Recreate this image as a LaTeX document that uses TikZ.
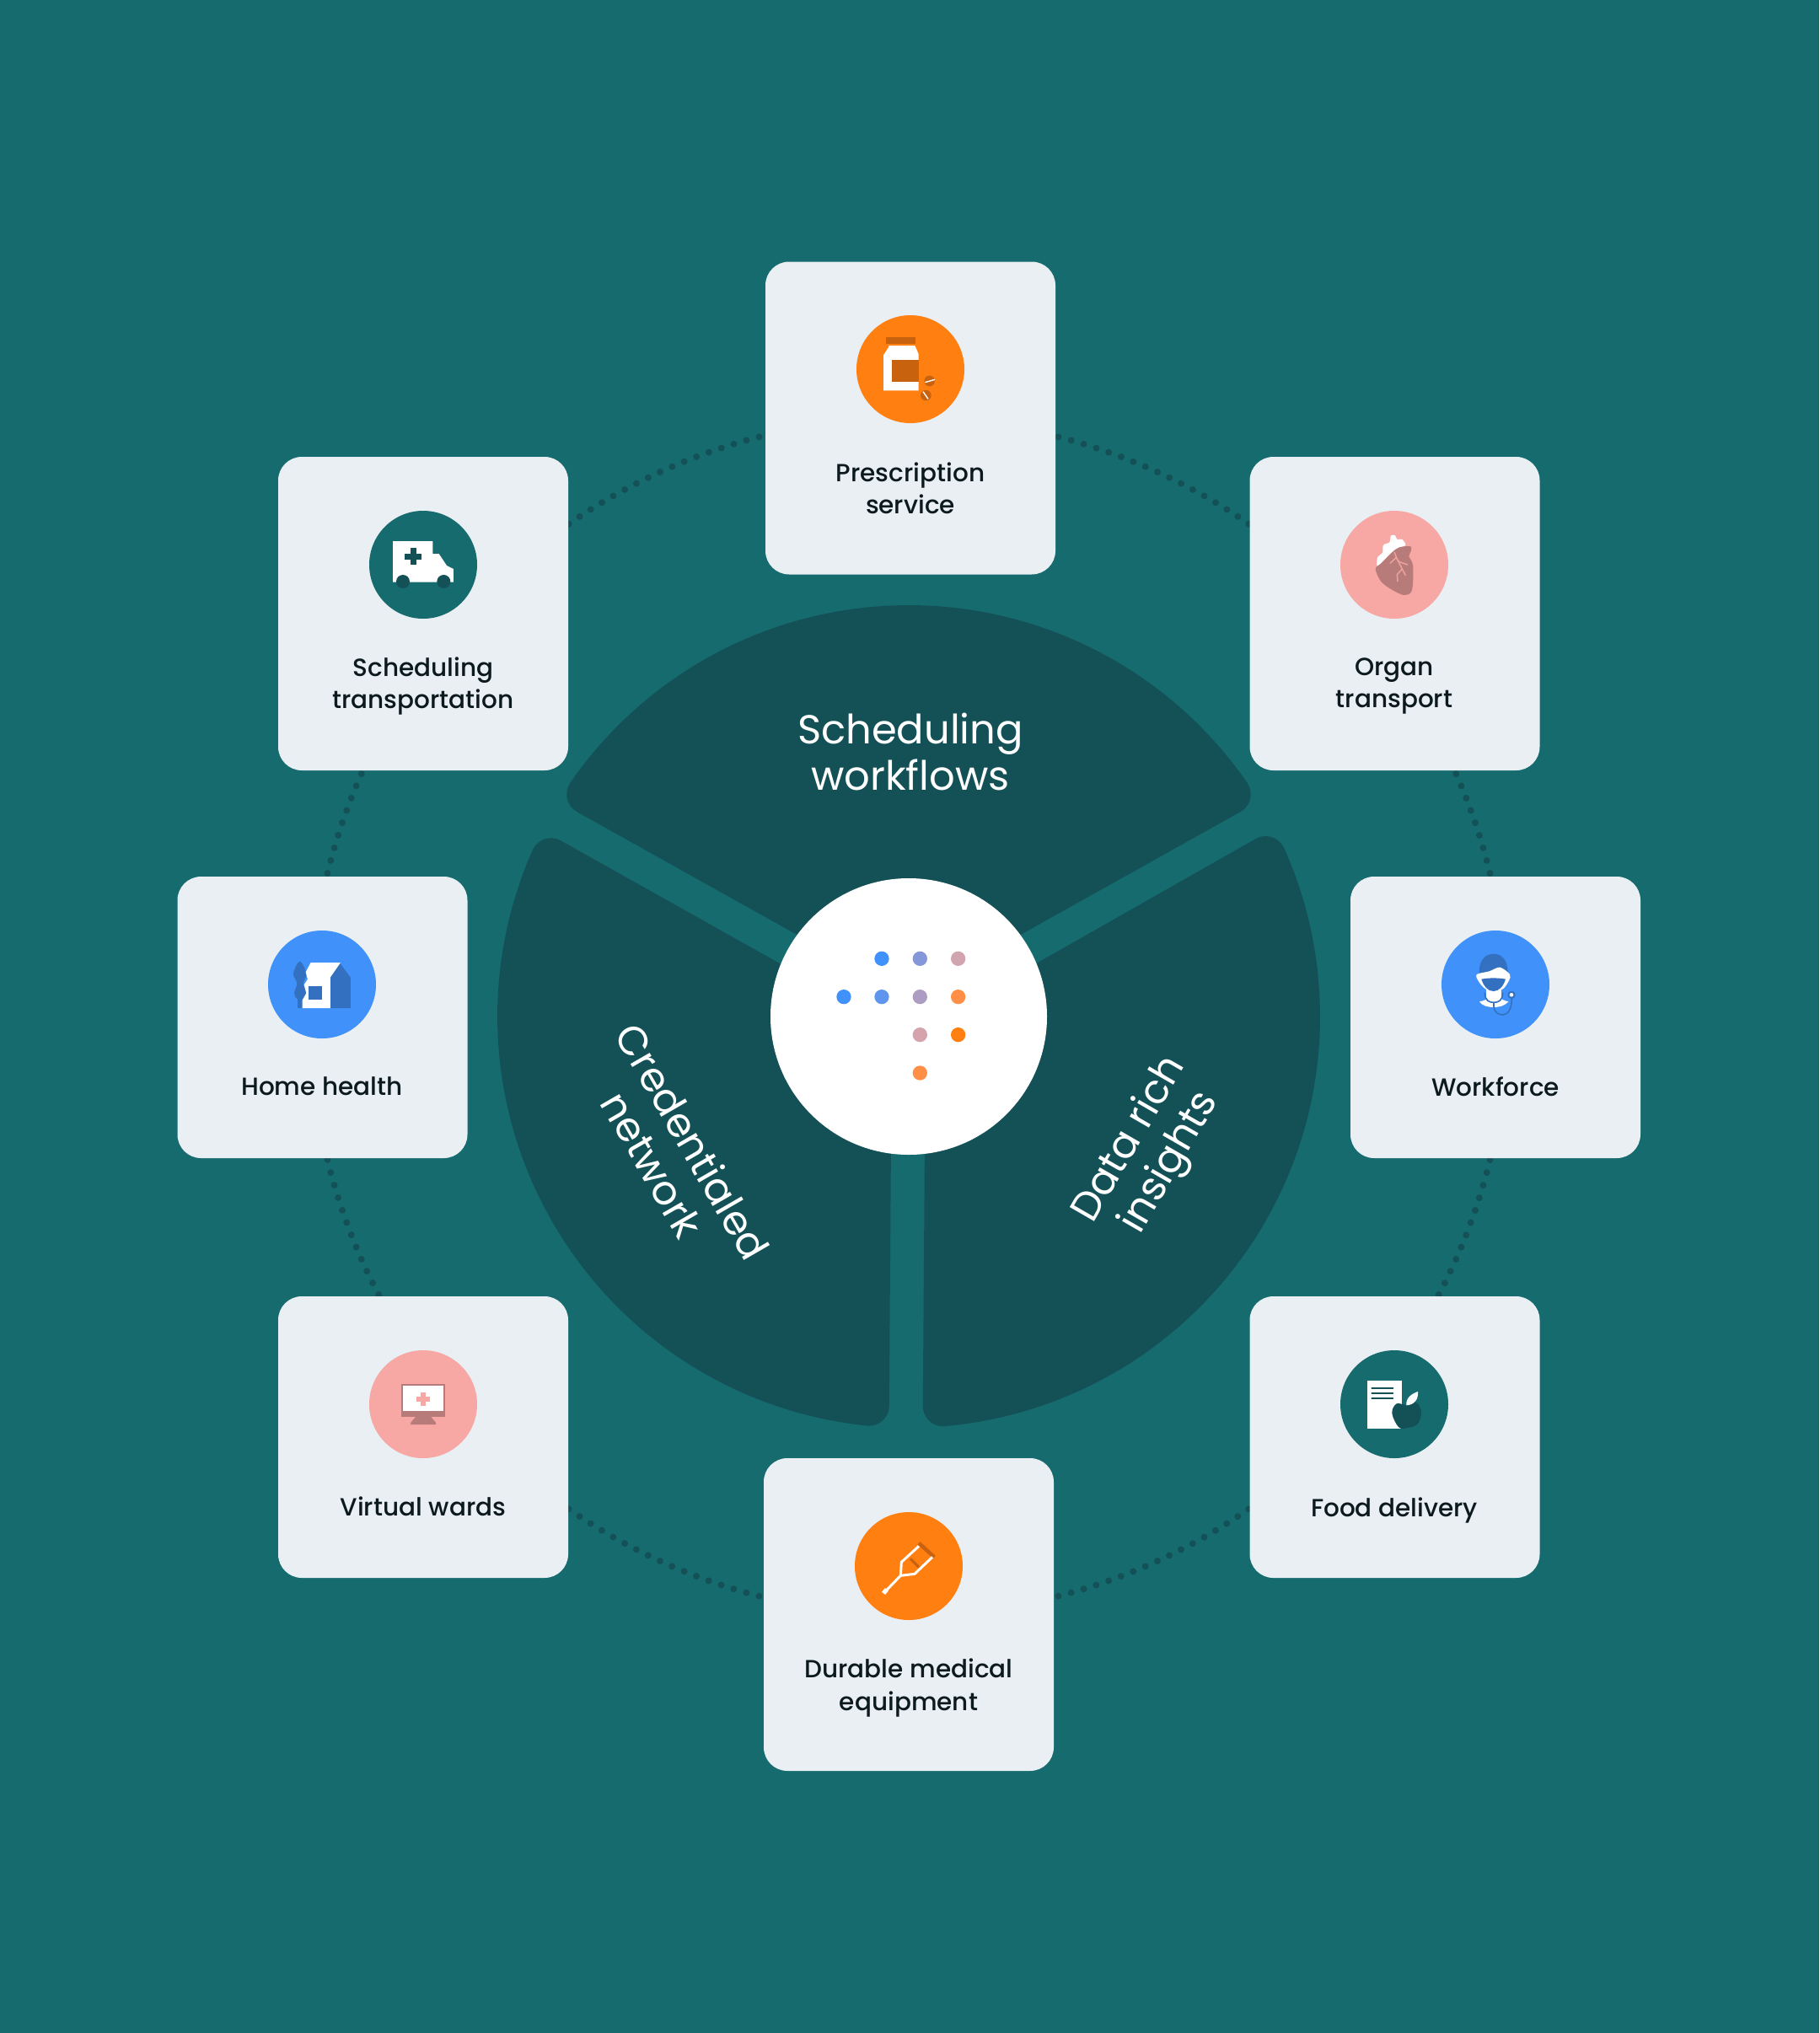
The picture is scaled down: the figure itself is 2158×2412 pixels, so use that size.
\documentclass[tikz,border=0pt]{standalone}
\usepackage{fontspec}
\setmainfont{Poppins}
\newfontfamily\cardfont{Poppins Medium}
\definecolor{bgteal}{HTML}{166B6F}
\definecolor{sector}{HTML}{145157}
\definecolor{cardbg}{HTML}{E9EFF2}
\definecolor{orng}{HTML}{FF7F11}
\definecolor{orngdk}{HTML}{C8620F}
\definecolor{pinkc}{HTML}{F7A8A5}
\definecolor{pinkdk}{HTML}{B77C79}
\definecolor{bluec}{HTML}{4092FA}
\definecolor{bluedk}{HTML}{3370C0}
\definecolor{inktext}{HTML}{0C1A1E}
\tikzset{
 cardbox/.style={draw=none,fill=cardbg,rounded corners=28pt,minimum width=344pt,inner sep=0pt},
 cardlabel/.style={text=inktext,font=\cardfont\fontsize{29.5}{38.5}\selectfont,align=center,anchor=center,inner sep=0pt},
 seclabel/.style={text=white,font=\fontsize{48}{55}\selectfont,align=center,inner sep=0pt},
 icondisc/.style={draw=none,minimum size=128pt,inner sep=0pt,circle},
 zoomed/.style={shift={(#1)},x=0.3333pt,y=-0.3333pt},
 centredot/.style={circle,draw=none,minimum size=17.3pt,inner sep=0pt},
}
% one wheel sector between two ray angles, corners rounded
\newcommand{\wheelsector}[2]{%
 \fill[sector] ({(#1+#2)/2}:{20/sin((#2-#1)/2)}) -- ({#1+2.48}:462.3)
   arc[start angle={#1-90},end angle={#1+5.44},radius=24]
   arc[start angle={#1+5.44},end angle={#2-5.44},radius=488]
   arc[start angle={#2-5.44},end angle={#2+90},radius=24] -- cycle;}
\begin{document}
\begin{tikzpicture}[x=1pt,y=1pt]
\path[use as bounding box,fill=bgteal] (0,0) rectangle (2158,-2412);
% dotted ring
\coordinate (hub) at (1078,-1206);
\draw[sector,line width=8pt,line cap=round,dash pattern=on 0pt off 15.6pt] (hub) circle[radius=710];
% sectors
\begin{scope}[shift={(hub)}]
\wheelsector{29.2}{150.8}
\wheelsector{150.7}{269.6}
\wheelsector{269.6}{389.6}
\end{scope}
\node[seclabel] (sched) at (1080,-892) {Scheduling\\workflows};
\node[seclabel,rotate=-60] (cred) at (798,-1368) {Credentialed\\network};
\node[seclabel,rotate=60] (data) at (1365,-1366) {Data rich\\insights};
\node[circle,fill=white,minimum size=328pt,inner sep=0pt] (core) at (hub) {};
% centre dots
\begin{scope}[zoomed={900,-1020}]
\foreach \px/\py/\c in {438/352/4092FA,574/352/8597D8,710/352/D2A4B0,303/488/4092FA,438/488/5F95EC,574/488/AD9DC3,710/488/FF8E46,574/623/D5A3AB,710/623/FF7F11,574/759/FF8E46}{
 \definecolor{dotc}{HTML}{\c}
 \node[centredot,fill=dotc] at (\px,\py) {};
}
\end{scope}
% cards
\node[cardbox,minimum height=371pt] (c1) at (1080,-496) {};
\node[cardbox,minimum height=372pt] (c2) at (1654.5,-728) {};
\node[cardbox,minimum height=372pt] (c3) at (502,-728) {};
\node[cardbox,minimum height=334pt] (c4) at (1774,-1207) {};
\node[cardbox,minimum height=334pt] (c5) at (382.5,-1207) {};
\node[cardbox,minimum height=334pt] (c6) at (1654.5,-1705) {};
\node[cardbox,minimum height=334pt] (c7) at (502,-1705) {};
\node[cardbox,minimum height=371pt] (c8) at (1078,-1915.5) {};
% discs
\node[icondisc,fill=orng] (d1) at (1080,-438) {};
\node[icondisc,fill=pinkc] (d2) at (1654,-670) {};
\node[icondisc,fill=bgteal] (d3) at (502,-670) {};
\node[icondisc,fill=bluec] (d4) at (1774,-1168) {};
\node[icondisc,fill=bluec] (d5) at (382,-1168) {};
\node[icondisc,fill=bgteal] (d6) at (1654,-1666) {};
\node[icondisc,fill=pinkc] (d7) at (502,-1666) {};
\node[icondisc,fill=orng] (d8) at (1078,-1858) {};
% labels
\node[cardlabel] (l1) at (1080,-579.5) {Prescription\\service};
\node[cardlabel] (l2) at (1654,-814) {Organ\\transport};
\node[cardlabel] (l3) at (502,-814) {Scheduling\\transportation};
\node[cardlabel] (l4) at (1774,-1289) {Workforce};
\node[cardlabel] (l5) at (382,-1289) {Home health};
\node[cardlabel] (l6) at (1654,-1791.5) {Food delivery};
\node[cardlabel] (l7) at (502,-1787) {Virtual wards};
\node[cardlabel] (l8) at (1078,-2002.5) {Durable medical\\equipment};
% bottle
\begin{scope}[zoomed={1000,-360}]
\fill[white] (163,150) -- (256,150) -- (269,180) -- (269,310) -- (144,310) -- (144,184) -- (163,155) -- cycle;
\fill[orngdk] (153,120) rectangle (259,144);
\fill[orngdk] (175,201) rectangle (269,279);
\fill[orngdk] (308,276) circle[radius=19];
\draw[white,line width=1.4pt] (292,281) -- (327,271);
\fill[orngdk] (295,327) circle[radius=19];
\draw[white,line width=1.4pt] (285,314) -- (303,340);
\end{scope}
% ambulance
\begin{scope}[zoomed={430,-600}]
\fill[white] (108,126) -- (250,126) -- (250,171) -- (272,171) -- (300,213) -- (324,225) -- (324,272) -- (108,272) -- cycle;
\fill[sector] (144,270) circle[radius=24];
\fill[sector] (289,270) circle[radius=24];
\fill[sector] (170,150) rectangle (191,210);
\fill[sector] (150,170) rectangle (211,191);
\end{scope}
% heart
\begin{scope}[zoomed={1580,-600}]
\fill[white] plot[smooth cycle,tension=.5] coordinates {(160,212) (163,182) (180,168) (183,140) (205,130) (210,106) (225,106) (232,120) (250,120) (262,140) (235,152) (200,178) (170,215)};
\fill[pinkdk] plot[smooth cycle,tension=.5] coordinates {(155,225) (175,205) (215,165) (240,148) (280,145) (280,165) (274,180) (288,210) (288,280) (280,310) (255,318) (215,300) (175,270)};
\draw[pinkc!85!pinkdk,line width=1.5pt] (207,205) -- (228,185) -- (240,200) -- (270,210);
\draw[pinkc!85!pinkdk,line width=1.5pt] (222,165) -- (232,190) -- (250,225) -- (232,245) -- (234,270);
\draw[pinkc!85!pinkdk,line width=1.5pt] (250,225) -- (262,248);
\end{scope}
% home
\begin{scope}[zoomed={310,-1100}]
\fill[bluedk] plot[smooth cycle,tension=.6] coordinates {(137,122) (160,165) (150,200) (160,235) (146,256) (128,256) (117,235) (127,200) (114,165)};
\fill[bluedk] (128,250) rectangle (146,288);
\fill[bluedk] (245,288) -- (318,288) -- (318,180) -- (280,128) -- (245,175) -- cycle;
\fill[white] (146,288) -- (246,288) -- (246,178) -- (282,126) -- (176,126) -- (158,160) -- (165,185) -- (152,205) -- (160,235) -- (146,260) -- cycle;
\fill[bluedk] (168,211) rectangle (215,257);
\end{scope}
% workforce
\begin{scope}[zoomed={1700,-1100}]
\fill[white] (165,265) .. controls (180,262) and (190,258) .. (195,252) -- (240,252) .. controls (245,258) and (255,262) .. (268,265) .. controls (255,280) and (235,285) .. (216,285) .. controls (195,285) and (175,280) .. (165,265) -- cycle;
\fill[white] (190,220) rectangle (242,258);
\fill[bluedk] (164,162) .. controls (164,112) and (190,95) .. (215,95) .. controls (240,95) and (266,112) .. (266,162) -- cycle;
\fill[white] plot[smooth cycle,tension=.5] coordinates {(156,168) (200,157) (238,143) (273,168) (270,190) (245,222) (190,222) (160,190)};
\fill[bluedk] (172,185) .. controls (200,180) and (230,180) .. (258,185) .. controls (250,210) and (235,228) .. (215,228) .. controls (195,228) and (180,210) .. (172,185) -- cycle;
\draw[bluedk,line width=1.6pt] (184,232) .. controls (184,262) and (200,268) .. (216,268) .. controls (232,268) and (248,262) .. (248,232);
\draw[bluedk,line width=1.6pt] (216,268) -- (216,282) .. controls (218,305) and (235,312) .. (247,312) .. controls (265,312) and (280,295) .. (280,252);
\fill[bluedk] (279,241) circle[radius=14];
\fill[white] (279,241) circle[radius=7];
\end{scope}
% monitor
\begin{scope}[zoomed={430,-1600}]
\fill[pinkdk] (138,126) rectangle (295,242);
\fill[white] (145,133) rectangle (289,221);
\fill[pinkdk] (190,242) -- (243,242) -- (260,262) -- (262,270) -- (171,270) -- (173,262) -- cycle;
\fill[pinkc] (208,156) rectangle (224,204);
\fill[pinkc] (192,172) rectangle (240,188);
\end{scope}
% food
\begin{scope}[zoomed={1580,-1600}]
\fill[white] (126,114) rectangle (248,285);
\draw[sector,line width=2pt,line cap=round] (142,140) -- (217,140);
\draw[sector,line width=2pt,line cap=round] (142,158) -- (217,158);
\draw[sector,line width=2pt,line cap=round] (142,177) -- (217,177);
\fill[sector] plot[smooth cycle,tension=.6] coordinates {(214,230) (230,196) (265,201) (300,192) (318,225) (305,268) (270,282) (238,280)};
\fill[white] (265,202) .. controls (262,175) and (285,160) .. (306,153) .. controls (308,180) and (295,200) .. (265,202) -- cycle;
\end{scope}
% crutch
\begin{scope}[zoomed={1000,-1790}]
\draw[orngdk,line width=4.5pt] (270,122) -- (325,172);
\draw[orngdk,line width=3.2pt] (240,178) -- (270,208);
\draw[white,line width=3pt,line join=round] (150,295) -- (205,238) -- (208,190) -- (270,133);
\draw[white,line width=3pt,line join=round] (205,238) -- (255,232) -- (318,172);
\draw[white,line width=6pt] (144,289) -- (156,299);
\end{scope}
\end{tikzpicture}
\end{document}
